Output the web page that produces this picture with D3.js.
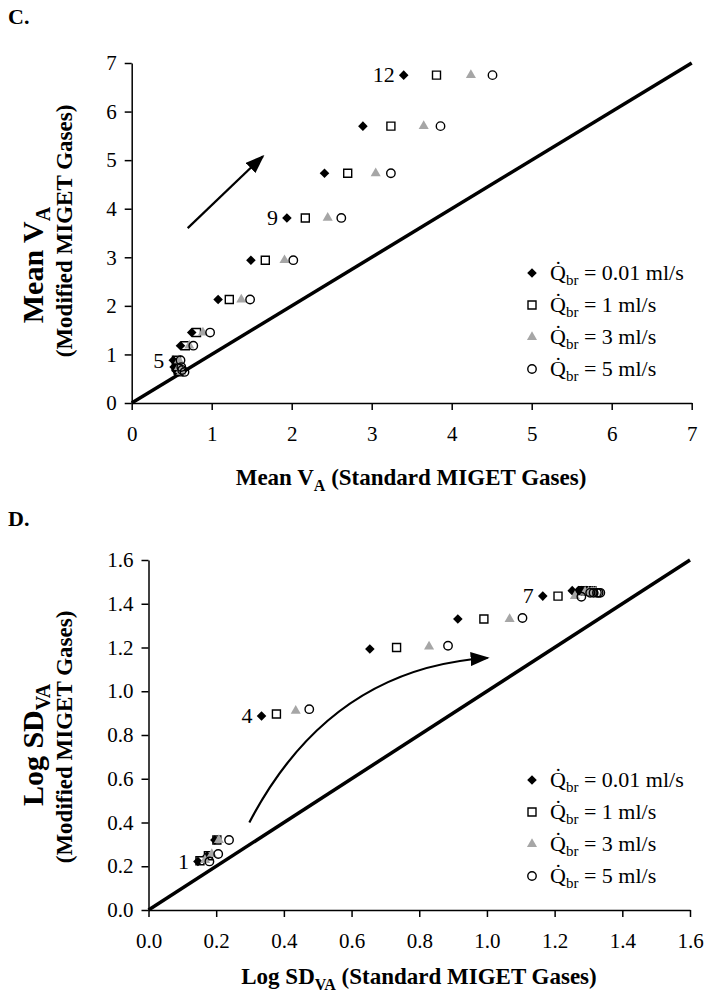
<!DOCTYPE html>
<html><head><meta charset="utf-8">
<script src="https://cdn.jsdelivr.net/npm/d3@7"></script>
<style>body{margin:0;background:#fff} svg{display:block} text{font-family:"Liberation Serif","Times New Roman",serif;fill:#000}</style>
</head><body><svg id="c" width="711" height="1002"></svg>
<script>
// ---------------- data ----------------
const seriesLabels = ["0.01 ml/s", "1 ml/s", "3 ml/s", "5 ml/s"];
const pointNumbers = [1,2,3,4,5,6,7,8,9,10,11,12];

// Panel C: Mean VA
const meanModified = [0.64, 0.68, 0.74, 0.88, 1.18, 1.45, 2.13, 2.94, 3.81, 4.73, 5.70, 6.75];
const meanStdQ001 = [0.57, 0.55, 0.53, 0.52, 0.61, 0.75, 1.08, 1.49, 1.94, 2.41, 2.89, 3.40];
const meanStdQ1   = [0.59, 0.58, 0.56, 0.56, 0.67, 0.81, 1.22, 1.67, 2.17, 2.70, 3.24, 3.81];
const meanStdQ3   = [0.62, 0.61, 0.59, 0.59, 0.72, 0.89, 1.37, 1.91, 2.45, 3.05, 3.65, 4.24];
const meanStdQ5   = [0.66, 0.63, 0.62, 0.61, 0.77, 0.98, 1.48, 2.02, 2.62, 3.24, 3.86, 4.51];
const ticksC = [0, 1, 2, 3, 4, 5, 6, 7];
const labelsC = [{text: "5", point: 4}, {text: "9", point: 9}, {text: "12", point: 12}];
const arrowC = [[0.70, 3.60], [1.64, 5.08]];

// Panel D: Log SD VA
const sdStdQ001 = [0.146, 0.173, 0.196, 0.334, 0.654, 0.914, 1.165, 1.252, 1.27, 1.28, 1.29, 1.295];
const sdModQ001 = [0.222, 0.247, 0.320, 0.887, 1.193, 1.330, 1.435, 1.460, 1.46, 1.46, 1.46, 1.46];
const sdStdQ1   = [0.152, 0.177, 0.202, 0.378, 0.733, 0.991, 1.210, 1.283, 1.29, 1.30, 1.305, 1.31];
const sdModQ1   = [0.225, 0.248, 0.320, 0.896, 1.200, 1.330, 1.435, 1.460, 1.46, 1.46, 1.46, 1.46];
const sdStdQ3   = [0.167, 0.187, 0.208, 0.435, 0.829, 1.067, 1.260, 1.290, 1.30, 1.31, 1.315, 1.32];
const sdModQ3   = [0.228, 0.256, 0.320, 0.910, 1.204, 1.330, 1.435, 1.455, 1.455, 1.455, 1.455, 1.455];
const sdStdQ5   = [0.180, 0.206, 0.238, 0.475, 0.885, 1.105, 1.279, 1.305, 1.315, 1.325, 1.33, 1.335];
const sdModQ5   = [0.222, 0.256, 0.320, 0.918, 1.208, 1.335, 1.432, 1.450, 1.45, 1.45, 1.45, 1.45];
const ticksD = [0, 0.2, 0.4, 0.6, 0.8, 1.0, 1.2, 1.4, 1.6];
const labelsD = [{text: "1", point: 1}, {text: "4", point: 4}, {text: "7", point: 7}];
const arrowD = [[0.298, 0.40], [0.536, 1.106], [1.002, 1.152]];

// ---------------- drawing ----------------
const svg = d3.select("#c");
const FONT = '"Liberation Serif","Times New Roman",serif';
const markerKinds = ["diamond", "square", "triangle", "circle"];

const defs = svg.append("defs");
defs.append("marker").attr("id", "ah").attr("markerUnits", "userSpaceOnUse")
  .attr("viewBox", "0 0 19 14").attr("markerWidth", 19).attr("markerHeight", 14)
  .attr("refX", 17).attr("refY", 7).attr("orient", "auto")
  .append("path").attr("d", "M0,0 L19,7 L0,14 Z").attr("fill", "#000");

function drawMarker(g, kind, x, y) {
  if (kind === "diamond") {
    g.append("path").attr("d", d3.symbol(d3.symbolSquare, 46)())
      .attr("transform", `translate(${x},${y}) rotate(45)`).attr("fill", "#000");
  } else if (kind === "square") {
    g.append("path").attr("d", d3.symbol(d3.symbolSquare, 64)())
      .attr("transform", `translate(${x},${y})`).attr("fill", "none").attr("stroke", "#000").attr("stroke-width", 1.4);
  } else if (kind === "triangle") {
    g.append("path").attr("d", d3.symbol(d3.symbolTriangle, 44)())
      .attr("transform", `translate(${x},${y})`).attr("fill", "#a6a6a6");
  } else {
    g.append("path").attr("d", d3.symbol(d3.symbolCircle, 56)())
      .attr("transform", `translate(${x},${y})`).attr("fill", "none").attr("stroke", "#000").attr("stroke-width", 1.4);
  }
}

function qText(sel, label) {
  sel.append("tspan").text("Q\u0307");
  sel.append("tspan").attr("font-size", 15).attr("dy", 5).text("br");
  sel.append("tspan").attr("dy", -5).text(" = " + label);
}

function drawPanel(cfg) {
  const x = d3.scaleLinear().domain(cfg.domain).range([cfg.left, cfg.right]);
  const y = d3.scaleLinear().domain(cfg.domain).range([cfg.bottom, cfg.top]);
  const g = svg.append("g");

  // panel letter
  g.append("text").attr("x", 8).attr("y", cfg.letterY).attr("font-size", 22)
    .attr("font-weight", "bold").text(cfg.letter);

  // axes
  const ax = g.append("g").attr("transform", `translate(0,${cfg.bottom})`)
    .call(d3.axisBottom(x).tickValues(cfg.ticks).tickFormat(cfg.fmt).tickSize(7).tickSizeOuter(0).tickPadding(12));
  const ay = g.append("g").attr("transform", `translate(${cfg.left},0)`)
    .call(d3.axisLeft(y).tickValues(cfg.ticks).tickFormat(cfg.fmt).tickSize(7).tickSizeOuter(0).tickPadding(8));
  [ax, ay].forEach(a => {
    a.select(".domain").attr("stroke-width", 1.5);
    a.selectAll(".tick line").attr("stroke-width", 1.5);
    a.selectAll(".tick text").attr("font-family", FONT).attr("font-size", 21).attr("fill", "#000");
  });
  ax.selectAll(".tick text").attr("dy", "0.9em");

  // identity line
  g.append("line").attr("x1", x(cfg.domain[0])).attr("y1", y(cfg.domain[0]))
    .attr("x2", x(cfg.domain[1])).attr("y2", y(cfg.domain[1]))
    .attr("stroke", "#000").attr("stroke-width", 3.5);

  // arrow
  const a = cfg.arrow;
  let d;
  if (a.length === 2) d = `M${x(a[0][0])},${y(a[0][1])} L${x(a[1][0])},${y(a[1][1])}`;
  else d = `M${x(a[0][0])},${y(a[0][1])} Q${x(a[1][0])},${y(a[1][1])} ${x(a[2][0])},${y(a[2][1])}`;
  g.append("path").attr("d", d).attr("fill", "none").attr("stroke", "#000")
    .attr("stroke-width", 2.2).attr("marker-end", "url(#ah)");

  // points
  const pts = g.append("g");
  cfg.series.forEach((s, si) => {
    s.xs.forEach((xv, i) => drawMarker(pts, markerKinds[si], x(xv), y(s.ys[i])));
  });

  // point number labels (anchored to the first series)
  cfg.labels.forEach(l => {
    const i = pointNumbers.indexOf(l.point);
    g.append("text").attr("x", x(cfg.series[0].xs[i]) - 9).attr("y", y(cfg.series[0].ys[i]))
      .attr("dy", "0.33em").attr("text-anchor", "end").attr("font-size", 22).text(l.text);
  });

  // legend
  const lg = g.append("g");
  seriesLabels.forEach((lab, i) => {
    const ly = cfg.bottom - 130 + i * 32;
    drawMarker(lg, markerKinds[i], 532, ly);
    const t = lg.append("text").attr("x", 550).attr("y", ly + 7).attr("font-size", 22);
    qText(t, lab);
  });

  // x title
  const xt = g.append("text").attr("x", cfg.xTitleX).attr("y", cfg.bottom + cfg.xTitleDy)
    .attr("text-anchor", "middle").attr("font-size", 23).attr("font-weight", "bold");
  xt.append("tspan").text(cfg.titleMain);
  xt.append("tspan").attr("font-size", 16).attr("dy", 6).text(cfg.titleSub);
  xt.append("tspan").attr("dy", -6).text(" (Standard MIGET Gases)");

  // y title
  const yt1 = g.append("text").attr("transform", `translate(43,${cfg.yTitle1Y}) rotate(-90)`)
    .attr("text-anchor", "middle").attr("font-size", 30).attr("font-weight", "bold");
  yt1.append("tspan").text(cfg.titleMain);
  yt1.append("tspan").attr("font-size", 20).attr("dy", 7).text(cfg.titleSub);
  g.append("text").attr("transform", `translate(72,${cfg.yTitle2Y}) rotate(-90)`)
    .attr("text-anchor", "middle").attr("font-size", 23).attr("font-weight", "bold")
    .text("(Modified MIGET Gases)");
}

drawPanel({
  letter: "C.", letterY: 24,
  domain: [0, 7], left: 131.7, right: 691.7, top: 63, bottom: 403,
  ticks: ticksC, fmt: d3.format("d"),
  series: [
    {xs: meanStdQ001, ys: meanModified},
    {xs: meanStdQ1, ys: meanModified},
    {xs: meanStdQ3, ys: meanModified},
    {xs: meanStdQ5, ys: meanModified}
  ],
  labels: labelsC, arrow: arrowC,
  titleMain: "Mean V", titleSub: "A",
  xTitleX: 411, xTitleDy: 82, yTitle1Y: 265, yTitle2Y: 231
});

drawPanel({
  letter: "D.", letterY: 526,
  domain: [0, 1.6], left: 148.5, right: 690, top: 560, bottom: 910,
  ticks: ticksD, fmt: d3.format(".1f"),
  series: [
    {xs: sdStdQ001, ys: sdModQ001},
    {xs: sdStdQ1, ys: sdModQ1},
    {xs: sdStdQ3, ys: sdModQ3},
    {xs: sdStdQ5, ys: sdModQ5}
  ],
  labels: labelsD, arrow: arrowD,
  titleMain: "Log SD", titleSub: "VA",
  xTitleX: 419, xTitleDy: 74, yTitle1Y: 745, yTitle2Y: 737
});
</script></body></html>
